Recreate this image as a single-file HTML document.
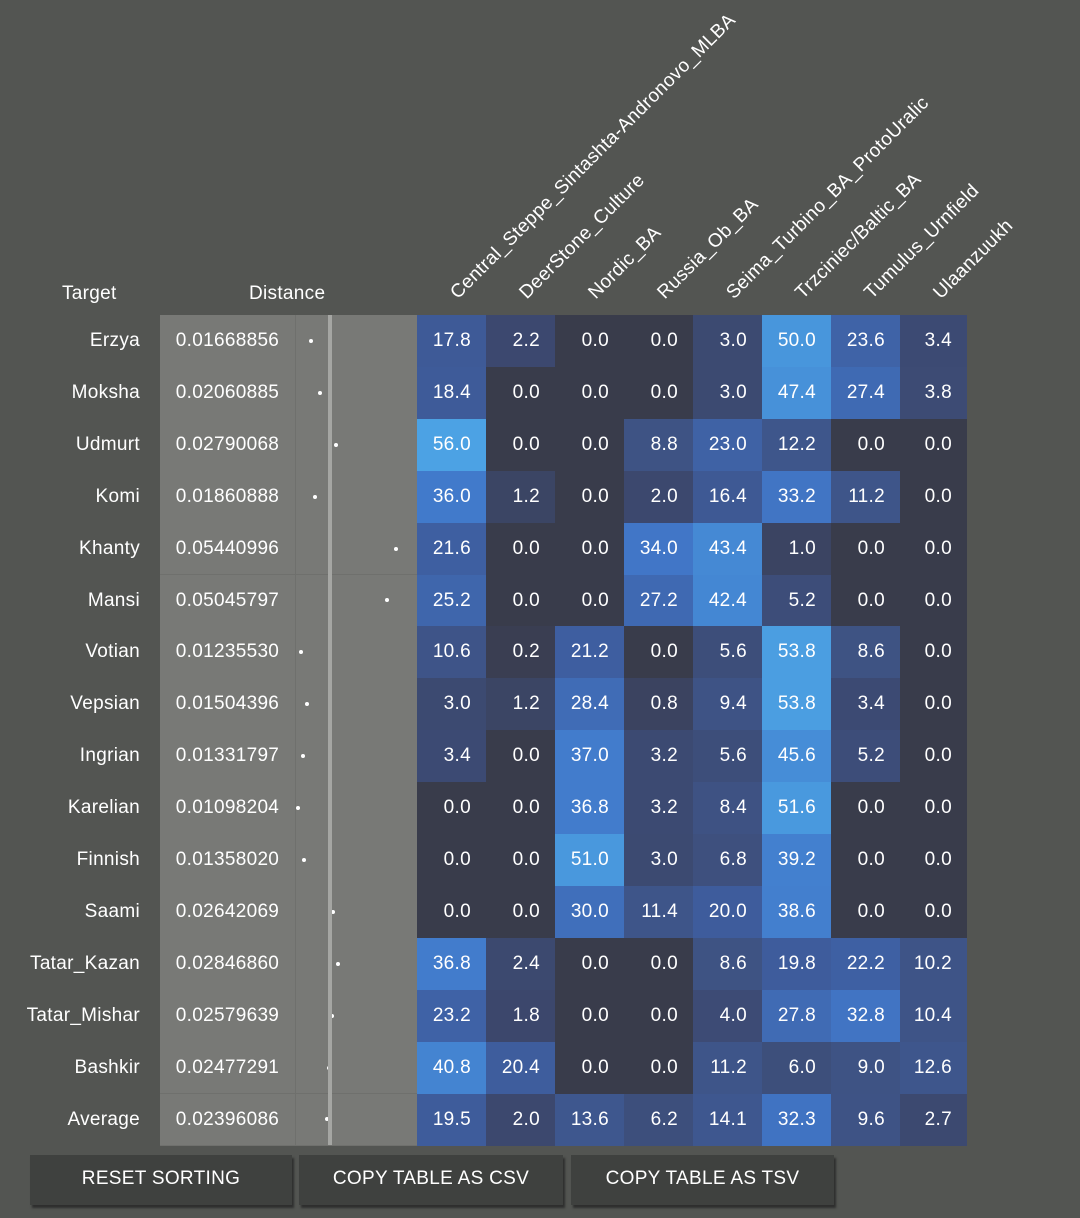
<!DOCTYPE html>
<html><head><meta charset="utf-8"><style>
body{margin:0;width:1080px;height:1218px;background:#535552;font-family:"Liberation Sans",sans-serif;color:#fff;overflow:hidden;position:relative;letter-spacing:0.3px}
.abs{position:absolute}
.hdr{font-size:19px;color:#fff;white-space:nowrap}
.rot{position:absolute;font-size:19px;white-space:nowrap;transform-origin:0 100%;transform:rotate(-45deg);line-height:22px}
.lbl{position:absolute;width:140px;text-align:right;font-size:19px}
.dist{position:absolute;left:160px;width:135px;background:#787976;font-size:19px;text-align:center;box-sizing:border-box;border-bottom:1px solid #6f706d}
.bar{position:absolute;left:295px;width:122px;background:#787976;box-sizing:border-box;border-left:1px solid #6f706d;border-bottom:1px solid #6f706d}
.cell{position:absolute;font-size:19px;text-align:right;box-sizing:border-box;padding-right:15px}
.dot{position:absolute;width:4px;height:4px;border-radius:2px;background:#fff}
.btn{position:absolute;top:1155px;height:50px;background:#3f413f;box-shadow:2px 3px 2px #2e2f2e;font-size:19px;text-align:center;line-height:48px}
</style></head><body>
<div class="abs hdr" style="left:62px;top:283px">Target</div>
<div class="abs hdr" style="left:249px;top:283px">Distance</div>
<div id="root"></div>
<div class="abs" style="left:328px;top:315px;width:4px;height:830px;background:#a5a6a3"></div>
<div class="btn" style="left:30px;width:262px">RESET SORTING</div>
<div class="btn" style="left:299px;width:264px">COPY TABLE AS CSV</div>
<div class="btn" style="left:571px;width:263px">COPY TABLE AS TSV</div>
<script>
const columns=["Central_Steppe_Sintashta-Andronovo_MLBA","DeerStone_Culture","Nordic_BA","Russia_Ob_BA","Seima_Turbino_BA_ProtoUralic","Trzciniec/Baltic_BA","Tumulus_Urnfield","Ulaanzuukh"];
const targets=["Erzya","Moksha","Udmurt","Komi","Khanty","Mansi","Votian","Vepsian","Ingrian","Karelian","Finnish","Saami","Tatar_Kazan","Tatar_Mishar","Bashkir","Average"];
const distances=["0.01668856","0.02060885","0.02790068","0.01860888","0.05440996","0.05045797","0.01235530","0.01504396","0.01331797","0.01098204","0.01358020","0.02642069","0.02846860","0.02579639","0.02477291","0.02396086"];
const values=[
[17.8,2.2,0.0,0.0,3.0,50.0,23.6,3.4],
[18.4,0.0,0.0,0.0,3.0,47.4,27.4,3.8],
[56.0,0.0,0.0,8.8,23.0,12.2,0.0,0.0],
[36.0,1.2,0.0,2.0,16.4,33.2,11.2,0.0],
[21.6,0.0,0.0,34.0,43.4,1.0,0.0,0.0],
[25.2,0.0,0.0,27.2,42.4,5.2,0.0,0.0],
[10.6,0.2,21.2,0.0,5.6,53.8,8.6,0.0],
[3.0,1.2,28.4,0.8,9.4,53.8,3.4,0.0],
[3.4,0.0,37.0,3.2,5.6,45.6,5.2,0.0],
[0.0,0.0,36.8,3.2,8.4,51.6,0.0,0.0],
[0.0,0.0,51.0,3.0,6.8,39.2,0.0,0.0],
[0.0,0.0,30.0,11.4,20.0,38.6,0.0,0.0],
[36.8,2.4,0.0,0.0,8.6,19.8,22.2,10.2],
[23.2,1.8,0.0,0.0,4.0,27.8,32.8,10.4],
[40.8,20.4,0.0,0.0,11.2,6.0,9.0,12.6],
[19.5,2.0,13.6,6.2,14.1,32.3,9.6,2.7]];
const stops=[[0,[57,60,75]],[0.5,[59,66,92]],[2,[60,72,110]],[8,[62,82,130]],[20,[62,92,156]],[35,[65,120,202]],[50,[72,150,220]],[56,[76,162,228]]];
function color(v){for(let i=1;i<stops.length;i++){if(v<=stops[i][0]){const a=stops[i-1],b=stops[i],t=(v-a[0])/(b[0]-a[0]);return 'rgb('+a[1].map((c,k)=>Math.round(c+(b[1][k]-c)*t)).join(',')+')';}}return 'rgb(76,162,228)';}
const top0=315,rowH=51.9,colX0=417,colW=69;
function rowY(i){return top0+i*rowH;}
function colX(j){return colX0+j*colW;}
function dotX(d){return 273.4+d*2253;}
const root=document.getElementById('root');
columns.forEach((c,j)=>{const e=document.createElement('div');e.className='rot';e.textContent=c;
e.style.left=(colX(j)+45)+'px';e.style.top=(304-22)+'px';


root.appendChild(e);});
targets.forEach((t,i)=>{const y=rowY(i),h=rowH;
let l=document.createElement('div');l.className='lbl';l.textContent=t;l.style.top=y+'px';l.style.height=h+'px';l.style.lineHeight=h+'px';


root.appendChild(l);
let d=document.createElement('div');d.className='dist';d.textContent=distances[i];d.style.top=y+'px';d.style.height=(h+1)+'px';d.style.lineHeight=h+'px';


root.appendChild(d);
let b=document.createElement('div');b.className='bar';b.style.top=y+'px';b.style.height=(h+1)+'px';


root.appendChild(b);
let p=document.createElement('div');p.className='dot';p.style.left=(dotX(parseFloat(distances[i]))-2)+'px';p.style.top=(y+h/2-2)+'px';


root.appendChild(p);
values[i].forEach((v,j)=>{let c=document.createElement('div');c.className='cell';c.textContent=v.toFixed(1);
c.style.left=colX(j)+'px';c.style.width=(j==7?67:colW)+'px';c.style.top=y+'px';c.style.height=(h+1)+'px';c.style.lineHeight=h+'px';c.style.background=color(v);


root.appendChild(c);});
});
</script>
</body></html>
